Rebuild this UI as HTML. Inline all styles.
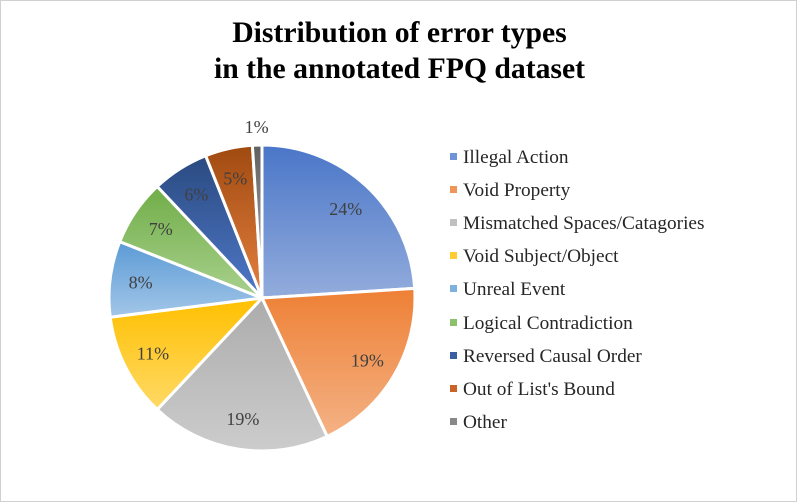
<!DOCTYPE html>
<html><head><meta charset="utf-8"><style>
html,body{margin:0;padding:0;background:#fff}
#c{position:relative;width:797px;height:502px;box-sizing:border-box;border:1px solid #d0d0d0;background:#fff}
#title{position:absolute;left:0;top:14px;width:797px;text-align:center;font:bold 29.7px/36px "Liberation Serif",serif;color:#000}
.leg{position:absolute;left:449px;font:19.3px "Liberation Serif",serif;color:#262626;white-space:nowrap}
.leg i{display:inline-block;width:7px;height:7px;margin-right:6px;vertical-align:3px}
</style></head><body>
<div id="c">
<div id="title">Distribution of error types<br>in the annotated FPQ dataset</div>
<svg id="pie" width="797" height="502" style="position:absolute;left:0;top:0"></svg>
<div id="legend"></div>
</div>
<script>
const categories=["Illegal Action","Void Property","Mismatched Spaces/Catagories","Void Subject/Object","Unreal Event","Logical Contradiction","Reversed Causal Order","Out of List's Bound","Other"];
const values=[24,19,19,11,8,7,6,5,1];
const labels=["24%","19%","19%","11%","8%","7%","6%","5%","1%"];
const topColors=["#4a76c8","#ee8035","#acacac","#ffc000","#5b9bd5","#70ad47","#2a4a80","#a04a10","#606060"];
const botColors=["#93acdc","#f4b285","#cccccc","#ffd966","#a3c6e8","#a9d18e","#4f78c8","#e48040","#b0b0b0"];
const legColors=["#6e93d6","#f0955a","#c0c0c0","#ffcc33","#7db1e0","#8cc06a","#3a5ea0","#c86428","#888888"];
const ns="http://www.w3.org/2000/svg";
const svg=document.getElementById('pie');
const cx=261,cy=297,R=153;
const total=values.reduce((a,b)=>a+b,0);
const defs=document.createElementNS(ns,'defs');svg.appendChild(defs);
let a0=-Math.PI/2;
values.forEach((v,i)=>{
  const a1=a0+v/total*2*Math.PI;
  const g=document.createElementNS(ns,'linearGradient');
  g.setAttribute('id','g'+i);g.setAttribute('x1','0');g.setAttribute('y1','0');g.setAttribute('x2','0');g.setAttribute('y2','1');
  g.innerHTML=`<stop offset="0" stop-color="${topColors[i]}"/><stop offset="1" stop-color="${botColors[i]}"/>`;
  defs.appendChild(g);
  const x0=cx+R*Math.cos(a0),y0=cy+R*Math.sin(a0),x1=cx+R*Math.cos(a1),y1=cy+R*Math.sin(a1);
  const p=document.createElementNS(ns,'path');
  p.setAttribute('d',`M${cx},${cy}L${x0},${y0}A${R},${R} 0 ${a1-a0>Math.PI?1:0} 1 ${x1},${y1}Z`);
  p.setAttribute('fill',`url(#g${i})`);p.setAttribute('stroke','#fff');p.setAttribute('stroke-width','3');
  
  
  svg.appendChild(p);
  a0=a1;
});
a0=-Math.PI/2;
values.forEach((v,i)=>{
  const a1=a0+v/total*2*Math.PI,am=(a0+a1)/2;
  const rr=v<3?R+18:R*0.8;
  const t=document.createElementNS(ns,'text');
  t.setAttribute('x',cx+rr*Math.cos(am));t.setAttribute('y',cy+rr*Math.sin(am)+6);
  t.setAttribute('text-anchor','middle');t.setAttribute('font-family','Liberation Serif, serif');
  t.setAttribute('font-size','18');t.setAttribute('fill','#404040');
  t.textContent=labels[i];
  
  
  svg.appendChild(t);
  a0=a1;
});
const leg=document.getElementById('legend');
categories.forEach((c,i)=>{
  const d=document.createElement('div');d.className='leg';d.style.top=(146+i*33.1)+'px';
  d.innerHTML=`<i style="background:${legColors[i]}"></i>${c}`;
  
  
  leg.appendChild(d);
});
</script>
</body></html>
